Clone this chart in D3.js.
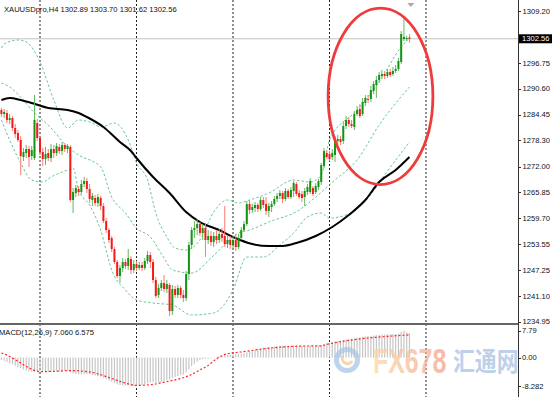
<!DOCTYPE html>
<html>
<head>
<meta charset="utf-8">
<script src="https://cdn.jsdelivr.net/npm/d3@7"></script>
<style>
  body { margin: 0; background: #fff; }
  svg text { font-family: "Liberation Sans", Arial, sans-serif; }
</style>
</head>
<body>
<svg id="chart" width="554" height="397"></svg>
<script>
// XAUUSDpro H4 candles (index 0 = leftmost bar)
var opens = [1285.54,1284.58,1284.82,1283.15,1283.63,1281.24,1280.04,1278.37,1274.31,1275.26,
  1276.22,1274.55,1274.07,1282.43,1278.85,1275.50,1273.83,1275.26,1274.07,1276.22,
  1275.26,1276.70,1275.74,1277.17,1276.22,1276.70,1264.03,1265.70,1266.66,1265.94,
  1267.85,1268.57,1266.66,1264.03,1264.51,1263.31,1264.51,1262.60,1259.01,1256.86,
  1254.95,1252.32,1249.21,1245.87,1247.78,1249.21,1248.26,1249.93,1247.30,1248.73,
  1247.78,1248.50,1247.78,1249.45,1250.89,1249.21,1244.91,1241.33,1243.00,1244.19,
  1242.76,1243.72,1237.50,1242.76,1241.33,1243.00,1241.33,1240.61,1246.34,1253.28,
  1256.86,1257.34,1258.29,1256.14,1257.34,1254.47,1255.43,1253.99,1255.43,1254.47,
  1255.90,1255.43,1253.51,1254.47,1253.28,1254.47,1252.80,1254.95,1256.86,1258.29,
  1263.07,1261.64,1262.12,1262.84,1261.88,1264.03,1263.07,1261.40,1262.36,1263.07,
  1264.27,1264.99,1265.70,1264.27,1266.18,1264.75,1266.18,1267.85,1265.70,1265.46,
  1264.75,1265.94,1265.94,1266.90,1265.94,1267.14,1268.33,1272.16,1275.26,1275.02,
  1274.31,1274.78,1278.13,1278.61,1278.13,1281.72,1283.15,1282.19,1281.48,1284.58,
  1285.78,1284.58,1287.21,1288.17,1288.17,1290.08,1291.51,1292.71,1293.67,1294.14,
  1293.67,1294.62,1294.14,1294.86,1295.34,1297.01,1302.51,1302.51,1302.89];
var highs = [1286.02,1285.78,1285.54,1284.58,1284.11,1282.19,1280.76,1279.33,1276.46,1277.17,
  1276.94,1276.94,1289.13,1283.39,1279.33,1276.46,1276.70,1276.22,1277.41,1277.17,
  1277.65,1277.41,1277.89,1277.65,1277.41,1277.17,1266.90,1267.62,1267.38,1268.81,
  1269.53,1269.29,1267.85,1265.70,1265.22,1265.46,1264.99,1263.31,1259.73,1257.34,
  1255.43,1252.80,1249.69,1248.50,1250.17,1249.93,1252.32,1250.65,1249.69,1249.45,
  1249.21,1249.21,1250.17,1251.84,1251.60,1249.93,1245.63,1243.95,1244.91,1246.10,
  1244.91,1244.19,1243.72,1243.48,1243.72,1243.48,1242.52,1247.06,1254.01,1257.58,
  1259.01,1259.49,1258.77,1258.29,1258.53,1256.86,1256.62,1256.38,1256.86,1257.10,
  1257.34,1262.60,1255.67,1255.43,1255.43,1255.90,1255.90,1257.58,1259.01,1263.79,
  1264.03,1263.07,1263.55,1263.31,1264.75,1264.75,1264.75,1263.31,1263.79,1264.99,
  1265.70,1266.42,1266.18,1266.90,1266.66,1267.14,1268.57,1268.33,1266.42,1266.18,
  1266.90,1267.85,1269.29,1267.38,1268.09,1269.05,1272.87,1276.46,1275.98,1275.74,
  1276.22,1279.33,1279.57,1279.33,1282.67,1284.11,1283.87,1283.15,1285.30,1286.50,
  1286.97,1288.41,1289.13,1289.13,1291.28,1292.47,1293.67,1294.62,1295.10,1294.86,
  1295.34,1295.34,1295.82,1296.30,1297.97,1304.42,1307.53,1303.23,1303.70];
var lows = [1283.87,1283.63,1282.43,1282.19,1280.52,1278.85,1277.89,1270.00,1273.35,1274.07,
  1271.92,1273.59,1273.59,1278.13,1274.78,1272.16,1272.40,1273.35,1273.11,1274.07,
  1274.55,1275.02,1274.78,1275.50,1275.26,1263.55,1260.92,1264.75,1264.99,1265.46,
  1267.14,1265.70,1263.31,1262.60,1262.60,1262.36,1261.64,1258.53,1256.14,1253.75,
  1251.60,1248.73,1245.39,1244.19,1246.82,1247.54,1247.30,1246.34,1246.58,1247.06,
  1247.30,1247.06,1247.30,1248.73,1247.78,1244.19,1240.61,1240.61,1242.28,1242.04,
  1241.80,1236.31,1236.55,1240.61,1240.61,1240.61,1239.65,1239.89,1244.91,1252.32,
  1254.95,1255.67,1255.43,1254.47,1250.41,1253.51,1253.04,1252.80,1253.51,1253.75,
  1253.99,1252.80,1252.56,1252.32,1252.08,1251.84,1252.32,1254.47,1256.38,1257.81,
  1260.68,1260.92,1261.16,1261.16,1261.40,1262.12,1260.45,1259.97,1261.16,1262.60,
  1263.55,1264.27,1263.31,1263.79,1264.27,1264.27,1264.75,1264.99,1264.27,1263.55,
  1262.60,1265.22,1265.46,1264.99,1265.46,1266.42,1267.62,1271.68,1273.83,1273.35,
  1273.59,1273.11,1277.17,1277.17,1277.41,1281.00,1281.48,1281.24,1280.76,1284.11,
  1283.63,1284.11,1286.50,1287.21,1287.45,1289.36,1288.41,1292.00,1292.95,1292.95,
  1293.19,1293.43,1293.67,1294.38,1294.86,1296.53,1302.03,1302.03,1301.62];
var closes = [1284.58,1285.06,1283.15,1283.63,1281.24,1279.80,1278.37,1274.55,1275.50,1276.22,
  1274.31,1275.98,1283.15,1278.85,1275.50,1273.83,1275.02,1274.07,1276.22,1275.26,
  1276.94,1275.74,1277.17,1276.22,1276.94,1264.03,1265.94,1266.90,1265.94,1267.85,
  1268.57,1266.66,1264.27,1264.99,1263.31,1264.75,1262.60,1259.01,1256.86,1254.47,
  1252.32,1249.21,1245.87,1247.78,1249.21,1248.26,1250.17,1247.30,1248.73,1247.78,
  1248.50,1247.78,1249.45,1250.89,1249.21,1244.91,1241.09,1243.00,1244.19,1242.76,
  1243.95,1237.50,1242.76,1241.33,1243.00,1241.33,1240.61,1246.34,1253.28,1256.86,
  1257.34,1258.29,1256.14,1257.34,1254.47,1255.43,1253.99,1255.43,1254.47,1255.90,
  1254.95,1253.51,1254.47,1253.28,1254.47,1252.80,1254.95,1256.86,1258.29,1263.07,
  1261.64,1262.36,1262.84,1261.88,1264.03,1262.84,1261.40,1262.60,1263.07,1264.27,
  1264.99,1265.70,1264.27,1266.18,1264.75,1266.42,1268.09,1265.46,1264.75,1264.51,
  1266.18,1267.14,1268.57,1265.46,1267.38,1268.57,1272.40,1275.74,1274.31,1273.83,
  1275.26,1278.37,1278.61,1277.89,1281.72,1283.15,1282.19,1281.72,1284.58,1285.54,
  1284.11,1287.45,1288.41,1287.93,1290.32,1291.75,1292.71,1293.91,1294.14,1293.67,
  1294.62,1293.91,1294.86,1295.34,1297.25,1303.70,1302.99,1302.75,1302.56];

// indicator lines as [bar, value] points
var upperBand = [[0,1300.36],[1,1301.31],[6,1302.27],[9,1301.79],[14,1297.01],[19,1287.93],
  [24,1281.24],[28,1283.15],[33,1282.43],[36,1281.48],[41,1282.43],[46,1278.37],[49,1272.87],
  [53,1268.81],[56,1260.92],[60,1255.19],[63,1252.56],[67,1252.08],[72,1254.47],[77,1261.16],
  [82,1264.03],[86,1263.31],[90,1264.03],[97,1265.70],[106,1268.81],[112,1268.33],
  [116,1270.00],[119,1278.37],[129,1285.54],[137,1292.23],[145,1300.60],[148,1302.75]];
var middleBand = [[0,1292.00],[3,1291.04],[7,1288.65],[11,1285.54],[18,1281.24],[24,1276.70],
  [28,1274.78],[36,1271.92],[40,1264.75],[45,1260.92],[49,1257.34],[54,1255.19],[59,1250.17],
  [62,1247.30],[69,1246.58],[76,1250.17],[79,1252.08],[86,1256.14],[90,1256.86],[97,1258.77],
  [108,1261.64],[114,1264.75],[121,1268.81],[129,1273.59],[137,1281.95],[148,1291.04]];
var lowerBand = [[0,1283.15],[3,1278.37],[7,1272.87],[11,1268.81],[15,1268.33],[18,1269.53],
  [24,1271.20],[26,1271.68],[28,1266.42],[32,1262.84],[36,1256.86],[40,1247.30],[45,1242.52],
  [49,1240.13],[55,1239.41],[62,1238.94],[69,1236.55],[77,1237.02],[84,1242.52],[89,1250.41],
  [95,1250.41],[101,1253.28],[106,1256.14],[111,1259.97],[116,1260.92],[119,1259.73],
  [125,1260.45],[133,1264.51],[139,1270.00],[148,1277.89]];
var slowMA = [[0,1287.93],[3,1288.41],[7,1287.93],[11,1287.21],[17,1286.02],[24,1285.54],
  [28,1284.82],[31,1283.87],[37,1281.48],[43,1277.89],[47,1275.74],[49,1274.07],[55,1269.53],
  [61,1265.70],[67,1261.16],[72,1258.77],[79,1256.86],[84,1255.19],[91,1253.51],[97,1253.04],
  [102,1253.04],[107,1253.75],[114,1255.43],[120,1257.58],[126,1260.45],[132,1264.03],
  [137,1268.33],[143,1271.20],[148,1274.31]];

// MACD(12,26,9): main line as histogram, one value per bar
var macdHist = [-0.7,-1.0,-1.3,-1.7,-2.0,-2.4,-2.8,-3.1,-3.5,-3.8,-4.0,
  -4.1,-4.2,-3.9,-3.9,-4.0,-4.1,-4.2,-4.2,-4.1,-4.1,-4.0,-4.0,-3.9,-3.9,
  -4.3,-4.6,-4.8,-4.9,-4.9,-4.8,-4.8,-4.9,-5.1,-5.3,-5.4,-5.6,
  -5.9,-6.3,-6.7,-7.0,-7.4,-7.8,-8.0,-8.1,-8.2,-8.1,-8.2,-8.28,-8.2,
  -8.1,-8.0,-7.8,-7.5,-7.3,-7.2,
  -7.4,-7.3,-7.1,-6.8,-6.5,-6.4,-6.0,-5.7,-5.4,-5.1,-4.9,
  -4.3,-3.4,-2.5,-1.8,-1.2,-0.8,-0.5,-0.4,-0.3,-0.2,-0.1,
  0.1,0.3,0.5,0.6,0.7,0.8,0.9,1.0,1.0,1.1,1.2,
  1.5,1.8,2.0,2.2,2.4,2.6,2.8,2.9,3.0,3.1,3.2,3.3,3.4,
  3.4,3.4,3.4,3.4,3.5,3.4,3.3,3.3,3.3,3.3,3.4,3.3,3.3,3.3,
  3.5,3.9,4.2,4.3,4.4,4.6,4.8,4.9,5.1,5.3,5.4,5.5,5.6,5.8,5.9,6.0,6.1,6.2,6.3,6.4,
  6.5,6.6,6.7,6.7,6.8,6.8,6.8,6.8,6.9,7.5,7.79,7.4,7.06];
var macdSignal = [[0,1.3],[2,0.7],[5,-0.6],[7,-1.6],[10,-3.0],[14,-4.1],[20,-4.0],[25,-3.8],
  [32,-4.2],[39,-5.8],[44,-7.2],[49,-8.1],[54,-7.9],[60,-7.0],[65,-6.1],[68,-5.3],[72,-3.6],
  [75,-2.3],[78,-0.4],[82,1.1],[87,1.6],[94,2.4],[101,3.0],[108,3.3],[116,3.4],[118,3.8],
  [123,4.6],[129,5.3],[135,5.8],[141,6.2],[148,6.575]];

var priceTicks = [1309.20, 1296.75, 1290.60, 1284.45, 1278.30, 1272.00, 1265.85, 1259.70, 1253.55, 1247.25, 1241.10, 1234.95];
var macdTicks = [7.79, 0, -8.282];
var macdTickLabels = ["7.79", "0.00", "-8.282"];
var gridBars = [14, 49, 84, 119, 154];
var circleBars = [118.5, 156.5];
var circlePrices = [1267.7, 1309.9];
var title = "XAUUSDpro,H4  1302.89 1303.70 1301.62 1302.56";
var macdTitle = "MACD(12,26,9) 7.060 6.575";

var svg = d3.select("#chart"),
    plotRight = 518,
    mainBottom = 323,
    macdTop = 325,
    fullHeight = 397;

var x = d3.scaleLinear().domain([0, 154]).range([1.4, 426]);
var y = d3.scaleLinear().domain([1234.95, 1309.20]).range([321.7, 11]);
var ym = d3.scaleLinear().domain([-8.282, 7.79]).range([386, 330.7]);

var defs = svg.append("defs");
defs.append("clipPath").attr("id", "clipMain")
  .append("rect").attr("x", 0).attr("y", 0).attr("width", plotRight).attr("height", mainBottom);
defs.append("clipPath").attr("id", "clipMacd")
  .append("rect").attr("x", 0).attr("y", macdTop).attr("width", plotRight).attr("height", fullHeight - macdTop);
var grad = defs.append("linearGradient").attr("id", "wmGrad");
grad.append("stop").attr("offset", "0%").attr("stop-color", "#fbd9a6");
grad.append("stop").attr("offset", "100%").attr("stop-color", "#f5a08a");

// vertical period separators
svg.selectAll(".grid")
    .data(gridBars)
  .enter().append("line")
    .attr("class", "grid")
    .attr("x1", function(d) { return x(d); })
    .attr("x2", function(d) { return x(d); })
    .attr("y1", 0)
    .attr("y2", fullHeight)
    .attr("stroke", "#222")
    .attr("stroke-width", 1)
    .attr("stroke-dasharray", "2,2");

var main = svg.append("g").attr("clip-path", "url(#clipMain)");

// current price line
main.append("line")
    .attr("x1", 0).attr("x2", plotRight)
    .attr("y1", y(closes[closes.length - 1]))
    .attr("y2", y(closes[closes.length - 1]))
    .attr("stroke", "#c4c4c4");

var bandLine = d3.line()
    .x(function(d) { return x(d[0]); })
    .y(function(d) { return y(d[1]); })
    .curve(d3.curveMonotoneX);

[upperBand, middleBand, lowerBand].forEach(function(band) {
  main.append("path")
      .attr("d", bandLine(band))
      .attr("fill", "none")
      .attr("stroke", "#6cc696")
      .attr("stroke-width", 1)
      .attr("stroke-dasharray", "2.5,2");
});

main.append("path")
    .attr("d", bandLine(slowMA))
    .attr("fill", "none")
    .attr("stroke", "#000")
    .attr("stroke-width", 2);

var candles = opens.map(function(o, i) {
  return {i: i, o: o, h: highs[i], l: lows[i], c: closes[i]};
});

main.selectAll(".wick")
    .data(candles)
  .enter().append("line")
    .attr("class", "wick")
    .attr("x1", function(d) { return x(d.i); })
    .attr("x2", function(d) { return x(d.i); })
    .attr("y1", function(d) { return y(d.h); })
    .attr("y2", function(d) { return y(d.l); })
    .attr("stroke", function(d) { return d.c >= d.o ? "#62b862" : "#ff7a7a"; })
    .attr("stroke-width", 1);

main.selectAll(".body")
    .data(candles)
  .enter().append("rect")
    .attr("class", "body")
    .attr("x", function(d) { return x(d.i) - 1; })
    .attr("width", 2)
    .attr("y", function(d) { return y(Math.max(d.o, d.c)); })
    .attr("height", function(d) { return Math.max(1, Math.abs(y(d.o) - y(d.c))); })
    .attr("fill", function(d) { return d.c >= d.o ? "#139413" : "#f81818"; });

// red highlight ellipse
svg.append("ellipse")
    .attr("cx", (x(circleBars[0]) + x(circleBars[1])) / 2)
    .attr("cy", (y(circlePrices[0]) + y(circlePrices[1])) / 2)
    .attr("rx", (x(circleBars[1]) - x(circleBars[0])) / 2)
    .attr("ry", (y(circlePrices[0]) - y(circlePrices[1])) / 2)
    .attr("fill", "none")
    .attr("stroke", "#ef3b3b")
    .attr("stroke-width", 2.8);

// chart shift marker
var shiftX = x(148.5);
svg.append("path")
    .attr("d", "M" + (shiftX - 3.5) + ",3L" + (shiftX + 3.5) + ",3L" + shiftX + ",7Z")
    .attr("fill", "#a8a8a8");

svg.append("text")
    .attr("x", 4).attr("y", 9).attr("dy", "0.35em")
    .attr("font-size", "7.6px").attr("fill", "#111")
    .text(title);

// MACD window
svg.append("rect")
    .attr("x", 0).attr("y", mainBottom)
    .attr("width", plotRight).attr("height", 2)
    .attr("fill", "#666");

var sub = svg.append("g").attr("clip-path", "url(#clipMacd)");

sub.selectAll(".hist")
    .data(macdHist)
  .enter().append("rect")
    .attr("class", "hist")
    .attr("x", function(d, i) { return x(i) - 0.6; })
    .attr("width", 1.2)
    .attr("y", function(d) { return Math.min(ym(d), ym(0)); })
    .attr("height", function(d) { return Math.abs(ym(d) - ym(0)); })
    .attr("fill", "#c6c6c6");

sub.append("path")
    .attr("d", d3.line()
      .x(function(d) { return x(d[0]); })
      .y(function(d) { return ym(d[1]); })
      .curve(d3.curveMonotoneX)(macdSignal))
    .attr("fill", "none")
    .attr("stroke", "#ff2424")
    .attr("stroke-width", 1.2)
    .attr("stroke-dasharray", "2,2");

svg.append("text")
    .attr("x", -1).attr("y", 332).attr("dy", "0.35em")
    .attr("font-size", "7.6px").attr("fill", "#111")
    .text(macdTitle);

// watermark
var wm = svg.append("g").attr("opacity", 0.75);
wm.append("circle")
    .attr("cx", 347).attr("cy", 360).attr("r", 10.5)
    .attr("fill", "none").attr("stroke", "#a9c6e8").attr("stroke-width", 5);
wm.append("path")
    .attr("d", "M343,356 A5,5 0 1 0 352,361")
    .attr("fill", "none").attr("stroke", "#f6c593").attr("stroke-width", 3);
wm.append("text")
    .attr("transform", "translate(373,373) scale(0.71,1)")
    .attr("font-size", "35px").attr("font-weight", "bold")
    .attr("fill", "url(#wmGrad)")
    .text("FX678");
wm.append("text")
    .attr("transform", "translate(453,371) scale(0.84,1)")
    .attr("font-size", "26px").attr("font-weight", "bold")
    .style("font-family", "'Noto Sans CJK SC', sans-serif")
    .attr("fill", "#a8c2e2")
    .text("汇通网");

// price axis
svg.append("line")
    .attr("x1", plotRight + 0.5).attr("x2", plotRight + 0.5)
    .attr("y1", 0).attr("y2", fullHeight)
    .attr("stroke", "#333");

var axis = svg.append("g");
axis.selectAll(".ptick")
    .data(priceTicks)
  .enter().append("line")
    .attr("class", "ptick")
    .attr("x1", plotRight).attr("x2", plotRight + 3)
    .attr("y1", function(d) { return Math.round(y(d)) + 0.5; })
    .attr("y2", function(d) { return Math.round(y(d)) + 0.5; })
    .attr("stroke", "#333");
axis.selectAll(".plabel")
    .data(priceTicks)
  .enter().append("text")
    .attr("class", "plabel")
    .attr("x", plotRight + 4.5)
    .attr("y", function(d) { return y(d); })
    .attr("dy", "0.35em")
    .attr("font-size", "7.6px").attr("fill", "#111")
    .text(function(d) { return d.toFixed(2); });

axis.selectAll(".mtick")
    .data(macdTicks)
  .enter().append("line")
    .attr("class", "mtick")
    .attr("x1", plotRight).attr("x2", plotRight + 3)
    .attr("y1", function(d) { return Math.round(ym(d)) + 0.5; })
    .attr("y2", function(d) { return Math.round(ym(d)) + 0.5; })
    .attr("stroke", "#333");
axis.selectAll(".mlabel")
    .data(macdTicks)
  .enter().append("text")
    .attr("class", "mlabel")
    .attr("x", plotRight + 4)
    .attr("y", function(d) { return ym(d); })
    .attr("dy", "0.35em")
    .attr("font-size", "7.6px").attr("fill", "#111")
    .text(function(d, i) { return macdTickLabels[i]; });

// last price tag
var lastY = y(closes[closes.length - 1]);
axis.append("rect")
    .attr("x", plotRight + 1).attr("y", lastY - 4.5)
    .attr("width", 33).attr("height", 9)
    .attr("fill", "#000");
axis.append("text")
    .attr("x", plotRight + 4).attr("y", lastY).attr("dy", "0.35em")
    .attr("font-size", "7.6px").attr("fill", "#fff")
    .text(closes[closes.length - 1].toFixed(2));
</script>
</body>
</html>
